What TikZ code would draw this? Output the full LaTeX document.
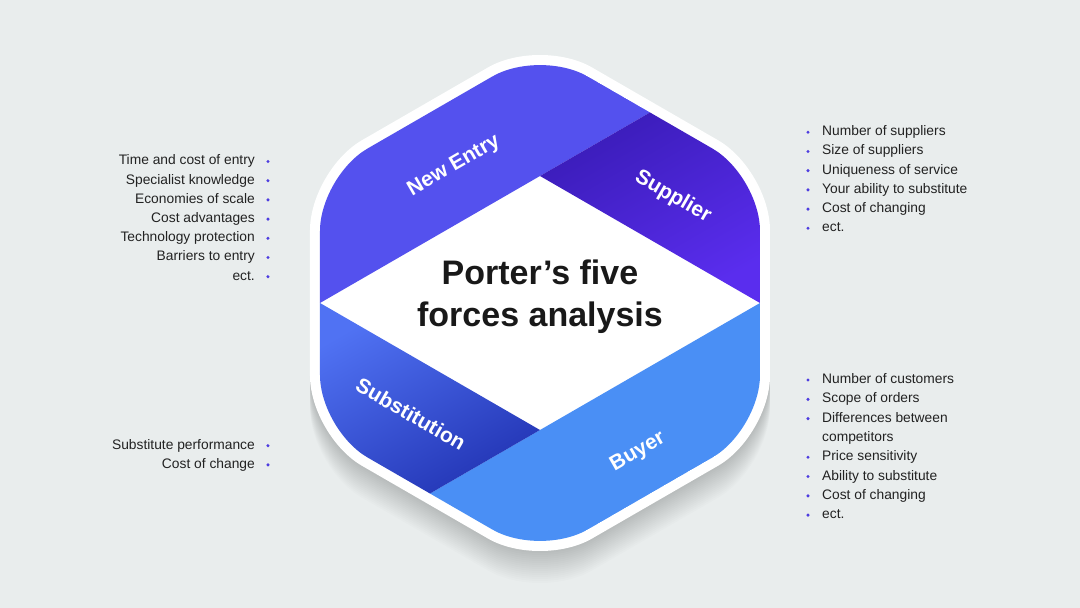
\documentclass[tikz,border=0pt]{standalone}
\usepackage{fontspec}
\setmainfont{Liberation Sans}
\usetikzlibrary{calc}
\definecolor{bgcol}{HTML}{E9EDED}
\definecolor{newcol}{HTML}{5451EE}
\definecolor{supdark}{HTML}{3A1CB8}
\definecolor{suplight}{HTML}{5A2DEE}
\definecolor{buycol}{HTML}{4A8FF5}
\definecolor{subdark}{HTML}{2335B5}
\definecolor{sublight}{HTML}{5072F3}
\definecolor{dotcol}{HTML}{4D3CE0}
\definecolor{textcol}{HTML}{222222}
\tikzset{
  item/.style={
    font=\fontsize{13.8}{16}\selectfont,
    text=textcol,
    inner sep=0pt,
    text height=10pt, text depth=3pt
  },
  bandlabel/.style={
    font=\fontsize{21}{24}\selectfont\bfseries,
    text=white,
    inner sep=0pt
  },
  title/.style={
    font=\fontsize{34}{42}\selectfont\bfseries,
    text=black!90,
    align=center,
    inner sep=0pt
  },
  bulletdot/.style={fill=dotcol}
}

\begin{document}
\begin{tikzpicture}[x=1pt, y=1pt]
    % Background
    \fill[bgcol] (-540,-305) rectangle (540,303);
    \useasboundingbox (-540,-305) rectangle (540,303);

    \def\ow{230}
    \def\iw{220}
    % Outer hexagon outline
    \def\outerhex{(0,{\ow/cos(30)}) -- (\ow,{\ow*tan(30)}) -- (\ow,{-\ow*tan(30)})
        -- (0,{-\ow/cos(30)}) -- (-\ow,{-\ow*tan(30)}) -- (-\ow,{\ow*tan(30)}) -- cycle}

    % Soft shadow below the hexagon
    \foreach \k in {1,...,16} {
        \fill[black, opacity=0.012, rounded corners=60pt, yshift={-2*\k}] \outerhex;
    }
    % Outer white hexagon
    \fill[white, rounded corners=60pt] \outerhex;

    % Inner corners of the bands
    \coordinate (T) at (0,{\iw/cos(30)});
    \coordinate (B) at (0,{-\iw/cos(30)});
    \coordinate (UR) at (\iw,{\iw*tan(30)});
    \coordinate (LR) at (\iw,{-\iw*tan(30)});
    \coordinate (UL) at (-\iw,{\iw*tan(30)});
    \coordinate (LL) at (-\iw,{-\iw*tan(30)});
    \coordinate (DL) at (-\iw,0);
    \coordinate (DR) at (\iw,0);
    \coordinate (DT) at (0,{\iw*tan(30)});
    \coordinate (DB) at (0,{-\iw*tan(30)});
    \coordinate (MR) at ($(T)!0.5!(UR)$);
    \coordinate (ML) at ($(B)!0.5!(LL)$);

    % Coloured bands
    \begin{scope}
        \clip[rounded corners=55pt] (T) -- (UR) -- (LR) -- (B) -- (LL) -- (UL) -- cycle;
        \fill[newcol] (DL) -- (DT) -- (MR) -- (T) -- (UL) -- cycle;
        \shade[top color=supdark, bottom color=suplight, shading angle=30]
            (DT) -- (DR) -- (UR) -- (MR) -- cycle;
        \fill[buycol] (DR) -- (DB) -- (ML) -- (B) -- (LR) -- cycle;
        \shade[top color=sublight, bottom color=subdark, shading angle=30]
            (DL) -- (DB) -- (ML) -- (LL) -- cycle;
    \end{scope}

    % Band labels
    \node[bandlabel, rotate=30] (newentry) at (-86,137) {New Entry};
    \node[bandlabel, rotate=-30] (supplier) at (133,106) {Supplier};
    \node[bandlabel, rotate=-30] (substitution) at (-129,-111) {Substitution};
    \node[bandlabel, rotate=30] (buyer) at (98,-149) {Buyer};

    % Title
    \node[title] (heading) at (0,6) {Porter's five\\forces analysis};

    % Left lists
    \foreach \t [count=\i] in {Time and cost of entry, Specialist knowledge,
        Economies of scale, Cost advantages, Technology protection,
        Barriers to entry, ect.} {
        \node[item, anchor=east] (ne\i) at (-285,{141.5-19.2*(\i-1)}) {\t};
        \fill[bulletdot] ([xshift=13pt]ne\i.east) circle (1.7pt);
    }
    \foreach \t [count=\i] in {Substitute performance, Cost of change} {
        \node[item, anchor=east] (su\i) at (-285,{-142.7-19.2*(\i-1)}) {\t};
        \fill[bulletdot] ([xshift=13pt]su\i.east) circle (1.7pt);
    }

    % Right lists
    \foreach \t [count=\i] in {Number of suppliers, Size of suppliers,
        Uniqueness of service, Your ability to substitute, Cost of changing, ect.} {
        \node[item, anchor=west] (sp\i) at (282,{170.7-19.2*(\i-1)}) {\t};
        \fill[bulletdot] ([xshift=-14pt]sp\i.west) circle (1.7pt);
    }
    \foreach \t/\b [count=\i] in {Number of customers/1, Scope of orders/1,
        Differences between/1, competitors/0, Price sensitivity/1,
        Ability to substitute/1, Cost of changing/1, ect./1} {
        \node[item, anchor=west] (by\i) at (282,{-77-19.3*(\i-1)}) {\t};
        \ifnum\b=1
            \fill[bulletdot] ([xshift=-14pt]by\i.west) circle (1.7pt);
        \fi
    }
\end{tikzpicture}
\end{document}
